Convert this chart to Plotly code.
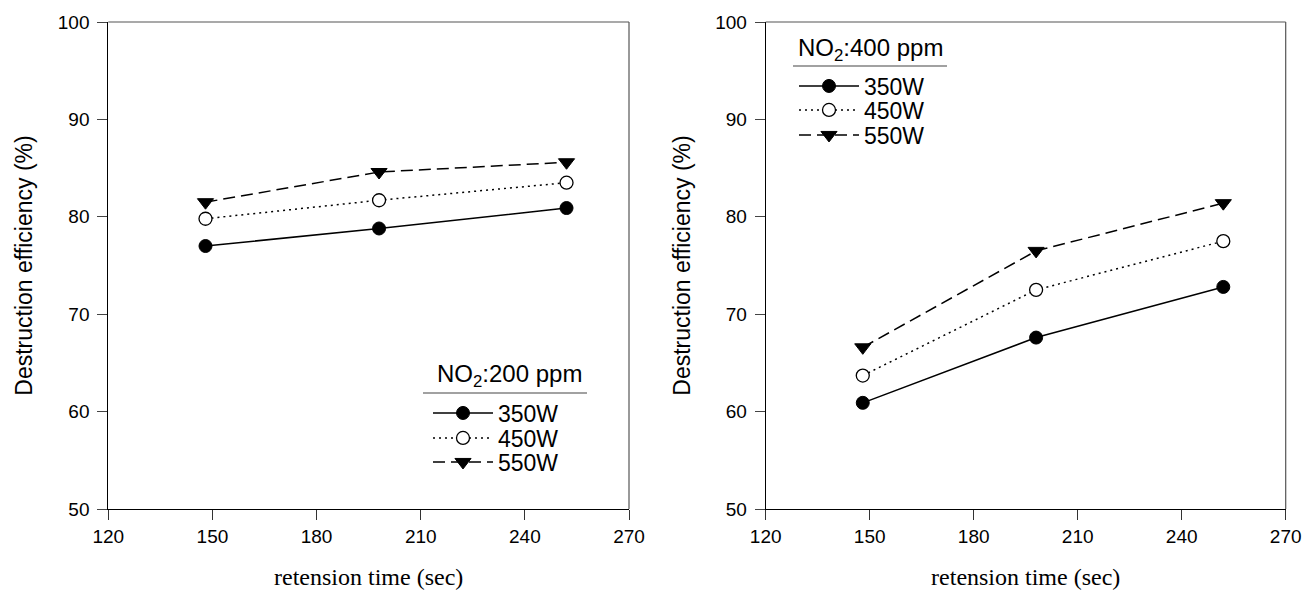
import plotly.graph_objects as go

# ---------------- data ----------------
retention_time = [148, 198, 252]

# NO2 : 200 ppm
eff_200_350W = [77.0, 78.8, 80.9]
eff_200_450W = [79.8, 81.7, 83.5]
eff_200_550W = [81.5, 84.6, 85.6]

# NO2 : 400 ppm
eff_400_350W = [60.9, 67.6, 72.8]
eff_400_450W = [63.7, 72.5, 77.5]
eff_400_550W = [66.6, 76.5, 81.4]

series_names = ["350W", "450W", "550W"]
panel_titles = ["NO<sub>2</sub>:200 ppm", "NO<sub>2</sub>:400 ppm"]
x_ticks = [120, 150, 180, 210, 240, 270]
y_ticks = [50, 60, 70, 80, 90, 100]

W, H = 1306, 590

styles = [
    dict(line=dict(color="black", width=1.5, dash="solid"),
         marker=dict(symbol="circle", size=13, color="black",
                     line=dict(color="black", width=1))),
    dict(line=dict(color="black", width=1.5, dash="2px,4px"),
         marker=dict(symbol="circle", size=13, color="white",
                     line=dict(color="black", width=1.3))),
    dict(line=dict(color="black", width=1.5, dash="12px,6px"),
         marker=dict(symbol="triangle-down", size=14, color="black",
                     line=dict(color="black", width=1))),
]

fig = go.Figure()

left_sets = [eff_200_350W, eff_200_450W, eff_200_550W]
right_sets = [eff_400_350W, eff_400_450W, eff_400_550W]

legfont = dict(family="Liberation Sans, Arial, sans-serif", size=23, color="black")
titlefont = dict(family="Liberation Sans, Arial, sans-serif", size=24, color="black")

# legend rows (pixel positions of each legend entry)
left_rows = [413, 438, 462]
right_rows = [86, 110, 135]
left_leg_x = 428
right_leg_x = 794

legends = {}
k = 1
for panel, sets, rows, lx in ((1, left_sets, left_rows, left_leg_x),
                              (2, right_sets, right_rows, right_leg_x)):
    for name, vals, st, ry in zip(series_names, sets, styles, rows):
        lname = "legend" if k == 1 else f"legend{k}"
        fig.add_trace(go.Scatter(
            x=retention_time, y=vals, mode="lines+markers", name=name,
            xaxis="x" if panel == 1 else "x2", yaxis="y" if panel == 1 else "y2",
            legend=lname, line=st["line"], marker=st["marker"]))
        legends[lname] = dict(x=lx / W, y=1 - ry / H, xanchor="left", yanchor="middle",
                              font=legfont, bgcolor="rgba(0,0,0,0)", itemwidth=60,
                              borderwidth=0)
        k += 1

ydom = [81 / H, 568 / H]
xdom1 = [108.3 / W, 629 / W]
xdom2 = [765.7 / W, 1285.7 / W]

tickfont = dict(family="Liberation Sans, Arial, sans-serif", size=19, color="black")
xtitlefont = dict(family="Liberation Serif, Times New Roman, serif", size=24, color="black")
ytitlefont = dict(family="Liberation Sans, Arial, sans-serif", size=23, color="black")

def xaxis(dom, anchor):
    return dict(domain=dom, anchor=anchor, range=[120, 270], tickvals=x_ticks,
                ticks="outside", ticklen=10, tickwidth=1, tickcolor="#333",
                showline=True, linecolor="black", linewidth=1, mirror=False,
                showgrid=False, zeroline=False, tickfont=tickfont,
                automargin=False,
                title=dict(text="retension time (sec)", font=xtitlefont, standoff=22))

def yaxis(anchor):
    return dict(domain=ydom, anchor=anchor, range=[50, 100], tickvals=y_ticks,
                ticks="outside", ticklen=10, tickwidth=1, tickcolor="#444",
                showline=True, linecolor="black", linewidth=1, mirror=False,
                showgrid=False, zeroline=False, tickfont=tickfont,
                automargin=False, ticklabelstandoff=4,
                title=dict(text="Destruction efficiency (%)", font=ytitlefont, standoff=18))

fig.update_layout(
    width=W, height=H,
    margin=dict(l=0, r=0, t=0, b=0),
    paper_bgcolor="white", plot_bgcolor="white",
    showlegend=True,
    xaxis=xaxis(xdom1, "y"),
    yaxis=yaxis("x"),
    xaxis2=xaxis(xdom2, "y2"),
    yaxis2=yaxis("x2"),
    annotations=[
        dict(text=panel_titles[0], xref="paper", yref="paper", x=509 / W, y=1 - 376 / H,
             xanchor="center", yanchor="middle", showarrow=False, font=titlefont),
        dict(text=panel_titles[1], xref="paper", yref="paper", x=871 / W, y=1 - 49 / H,
             xanchor="center", yanchor="middle", showarrow=False, font=titlefont),
    ],
    shapes=[
        # frame top/right (gray)
        dict(type="line", xref="x domain", yref="y domain", x0=0, x1=1, y0=1, y1=1,
             line=dict(color="#555", width=1.2)),
        dict(type="line", xref="x domain", yref="y domain", x0=1, x1=1, y0=0, y1=1,
             line=dict(color="#555", width=1.2)),
        dict(type="line", xref="x2 domain", yref="y2 domain", x0=0, x1=1, y0=1, y1=1,
             line=dict(color="#555", width=1.2)),
        dict(type="line", xref="x2 domain", yref="y2 domain", x0=1, x1=1, y0=0, y1=1,
             line=dict(color="#555", width=1.2)),
        # legend title underlines
        dict(type="line", xref="paper", yref="paper", x0=423 / W, x1=587 / W,
             y0=1 - 393 / H, y1=1 - 393 / H, line=dict(color="#444", width=1.2)),
        dict(type="line", xref="paper", yref="paper", x0=793 / W, x1=947 / W,
             y0=1 - 66 / H, y1=1 - 66 / H, line=dict(color="#444", width=1.2)),
    ],
)
fig.update_layout(**legends)

fig.write_html("out.html", config={"displayModeBar": False},
               post_script="document.body.style.margin='0';document.body.style.overflow='hidden';")
